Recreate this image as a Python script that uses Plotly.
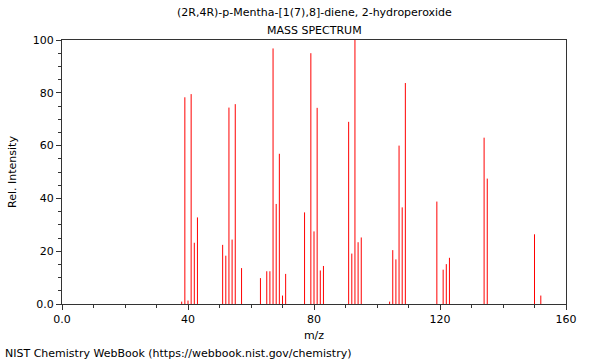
import plotly.graph_objects as go

# m/z values and relative intensities
mz = [38, 39, 40, 41, 42, 43, 51, 52, 53, 54, 55, 57, 63, 65, 66, 67, 68, 69, 70, 71,
      77, 79, 80, 81, 82, 83, 91, 92, 93, 94, 95, 104, 105, 106, 107, 108, 109,
      119, 121, 122, 123, 134, 135, 150, 152]
intensity = [0.9, 78.3, 1.3, 79.5, 23.2, 32.8, 22.4, 18.3, 74.4, 24.4, 75.7, 13.6, 9.8, 12.4, 12.4, 96.8, 37.9, 56.9, 3.2, 11.4,
             34.7, 95.0, 27.5, 74.3, 12.7, 14.4, 69.0, 19.1, 100.0, 23.4, 25.2, 0.9, 20.4, 16.9, 60.0, 36.6, 83.7,
             38.8, 13.0, 15.1, 17.5, 63.0, 47.5, 26.4, 3.2]

x_tickvals = [0, 40, 80, 120, 160]
x_ticktext = ["0.0", "40", "80", "120", "160"]
y_tickvals = [0, 20, 40, 60, 80, 100]
y_ticktext = ["0.0", "20", "40", "60", "80", "100"]

title_line1 = "(2R,4R)-p-Mentha-[1(7),8]-diene, 2-hydroperoxide"
title_line2 = "MASS SPECTRUM"
footer = "NIST Chemistry WebBook (https://webbook.nist.gov/chemistry)"

xs, ys = [], []
for m, h in zip(mz, intensity):
    xs += [m, m, None]
    ys += [0, h, None]

fig = go.Figure()
fig.add_trace(go.Scatter(x=xs, y=ys, mode="lines",
                         line=dict(color="#ff0000", width=1),
                         hoverinfo="skip", showlegend=False))

font = dict(family="DejaVu Sans", size=11, color="#000000")
axis_common = dict(showgrid=False, zeroline=False, showline=True, linecolor="#333333",
                   linewidth=1, mirror=True, ticks="outside", tickcolor="#333333",
                   ticklen=5, tickfont=font)

L, R, T, B = 62, 34, 40, 56
fig.update_layout(
    width=600, height=360,
    margin=dict(l=L, r=R, t=T, b=B, pad=0),
    paper_bgcolor="white", plot_bgcolor="white",
    font=font,
    xaxis=dict(range=[0, 160], tickvals=x_tickvals, ticktext=x_ticktext,
               minor=dict(dtick=10, tick0=0, ticks="outside", ticklen=3, tickcolor="#333333"),
               title=dict(text="m/z", font=font, standoff=6), **axis_common),
    yaxis=dict(range=[0, 100], tickvals=y_tickvals, ticktext=y_ticktext,
               minor=dict(dtick=5, tick0=0, ticks="outside", ticklen=3, tickcolor="#333333"),
               title=dict(text="Rel. Intensity", font=font, standoff=13), **axis_common),
)

pw, ph = 600 - L - R, 360 - T - B


def px_to_paper(xp, yp):
    return (xp - L) / pw, (360 - B - yp) / ph


for text, xp, yp, anchor in [(title_line1, 314, 13, "center"),
                             (title_line2, 314, 30, "center"),
                             (footer, 3, 353, "left")]:
    ax, ay = px_to_paper(xp, yp)
    fig.add_annotation(text=text, x=ax, y=ay, xref="paper", yref="paper", showarrow=False,
                       font=font, xanchor=anchor, yanchor="middle")

fig.write_html("out.html", config={"displayModeBar": False},
               post_script="document.body.style.margin='0';document.body.style.padding='0';")
